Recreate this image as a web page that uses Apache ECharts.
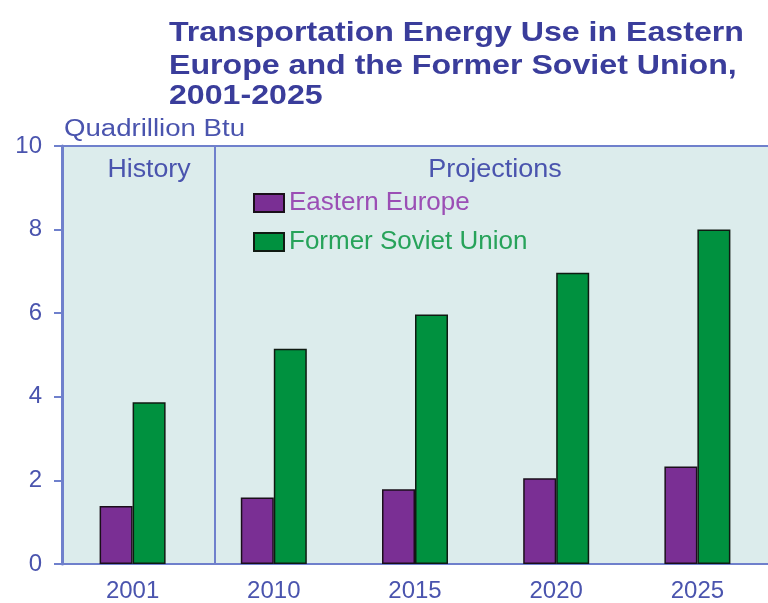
<!DOCTYPE html>
<html><head><meta charset="utf-8">
<script src="https://cdn.jsdelivr.net/npm/echarts@6/dist/echarts.min.js"></script>
<style>html,body{margin:0;padding:0;background:#fff}#c{width:768px;height:603px}</style>
</head><body><div id="c"></div>
<script>
const categories = ['2001', '2010', '2015', '2020', '2025'];
const easternEurope = [1.39, 1.59, 1.79, 2.05, 2.33];
const formerSovietUnion = [3.87, 5.15, 5.97, 6.97, 8.0];
const yTicks = [0, 2, 4, 6, 8, 10];
const titleLines = ['Transportation Energy Use in Eastern', 'Europe and the Former Soviet Union,', '2001-2025'];
const dividerPos = 0.585;

const blue = '#4a54ae';
const axisBlue = '#6f80cc';
const font = 'Liberation Sans, Arial, sans-serif';

function txt(text, x, y, size, weight, color, align, sx) {
  return { type: 'text', x: x, y: y, scaleX: sx, silent: true,
    style: { text: text, fill: color, align: align, verticalAlign: 'middle',
      font: weight + ' ' + size + 'px ' + font } };
}

const chart = echarts.init(document.getElementById('c'));
chart.setOption({
  backgroundColor: '#ffffff',
  animation: false,
  textStyle: { fontFamily: font },
  graphic: [
    txt(titleLines[0], 169, 34, 27, 'bold', '#3a3d9b', 'left', 1.19),
    txt(titleLines[1], 169, 67, 27, 'bold', '#3a3d9b', 'left', 1.19),
    txt(titleLines[2], 169, 97, 27, 'bold', '#3a3d9b', 'left', 1.19),
    txt('Quadrillion Btu', 64, 130, 23, 'normal', blue, 'left', 1.2),
    txt('History', 149, 170, 25, 'normal', blue, 'center', 1.07),
    txt('Projections', 495, 170, 25, 'normal', blue, 'center', 1.08)
  ],
  legend: {
    orient: 'vertical', left: 253, top: 190, padding: 0, itemWidth: 30, itemHeight: 18, itemGap: 13,
    icon: 'rect',
    data: [
      { name: 'Eastern Europe', textStyle: { color: '#9b4fb5', fontSize: 26 } },
      { name: 'Former Soviet Union', textStyle: { color: '#27a35a', fontSize: 26 } }
    ],
    textStyle: { fontSize: 26 }
  },
  grid: { left: 62, right: -4, top: 146, bottom: 38, show: true, backgroundColor: '#dcecec', borderWidth: 0 },
  xAxis: [
    { type: 'category', data: categories,
      axisLine: { lineStyle: { color: axisBlue, width: 2 } },
      axisTick: { show: false },
      axisLabel: { color: blue, fontSize: 24, margin: 15 } },
    { type: 'value', min: -0.5, max: 4.5, show: false }
  ],
  yAxis: [{
    type: 'value', min: 0, max: 10, interval: 2,
    axisLine: { show: true, onZero: false, lineStyle: { color: axisBlue, width: 3 } },
    axisTick: { show: true, length: 8, lineStyle: { color: axisBlue, width: 2 } },
    axisLabel: { color: blue, fontSize: 24, margin: 20, formatter: v => yTicks.includes(v) ? String(v) : '' },
    splitLine: { show: false }
  }],
  series: [
    { name: 'Eastern Europe', type: 'bar', data: easternEurope, barWidth: 33, barGap: '0%',
      itemStyle: { color: '#7a2f94', borderColor: '#1a0f1a', borderWidth: 1.5 } },
    { name: 'Former Soviet Union', type: 'bar', data: formerSovietUnion, barWidth: 33, barGap: '0%',
      itemStyle: { color: '#00913f', borderColor: '#0f1a12', borderWidth: 1.5 } },
    { type: 'line', xAxisIndex: 1, data: [], silent: true,
      markLine: { symbol: 'none', silent: true, label: { show: false },
        lineStyle: { color: axisBlue, width: 2, type: 'solid' },
        data: [{ xAxis: dividerPos }, { yAxis: 10 }] } }
  ]
});
</script></body></html>
